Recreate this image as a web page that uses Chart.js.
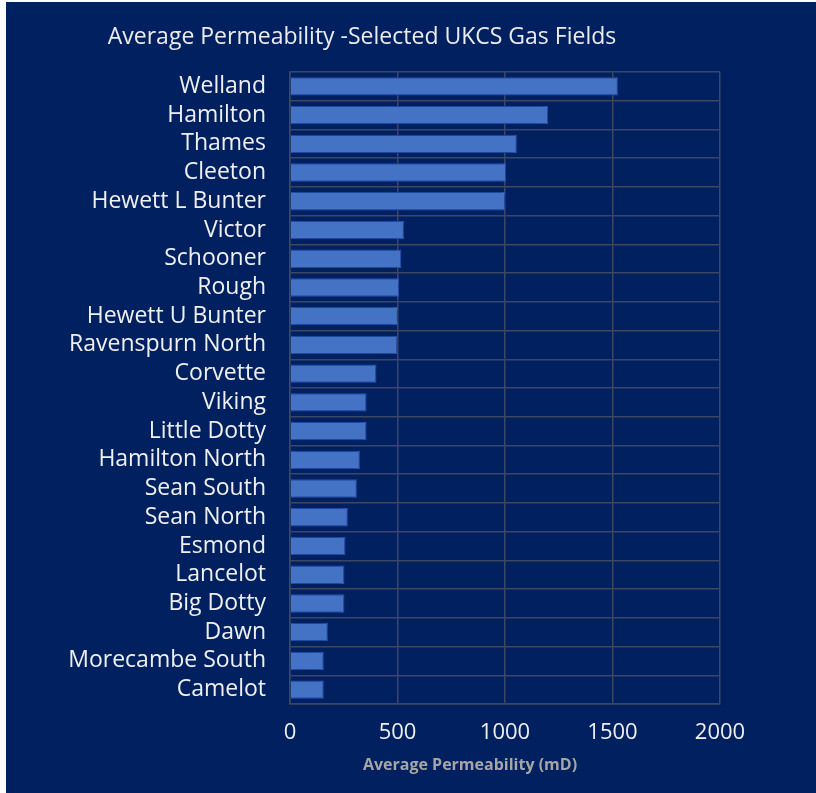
<!DOCTYPE html>
<html>
<head>
<meta charset="utf-8">
<script src="https://cdn.jsdelivr.net/npm/chart.js@4"></script>
<style>
  html, body { margin: 0; padding: 0; background: #ffffff; }
  #wrap { position: absolute; left: 6px; top: 2px; width: 810px; height: 791px; background: #002060; }
</style>
</head>
<body>
<div id="wrap"><canvas id="myChart" width="810" height="791"></canvas></div>
<script>
// field names, top to bottom
const fields = ['Welland', 'Hamilton', 'Thames', 'Cleeton', 'Hewett L Bunter', 'Victor',
  'Schooner', 'Rough', 'Hewett U Bunter', 'Ravenspurn North', 'Corvette', 'Viking',
  'Little Dotty', 'Hamilton North', 'Sean South', 'Sean North', 'Esmond', 'Lancelot',
  'Big Dotty', 'Dawn', 'Morecambe South', 'Camelot'];

// average permeability, mD
const permeability = [1525, 1200, 1055, 1005, 1000, 530, 518, 507, 502, 500, 402, 356,
  356, 325, 311, 269, 258, 253, 253, 176, 157, 157];

const xTicks = [0, 500, 1000, 1500, 2000];

const chartTitle = 'Average Permeability -Selected UKCS Gas Fields';
const axisTitle = 'Average Permeability (mD)';

const font = "'Open Sans', sans-serif";

// titles drawn by hand so they can sit off-centre like the original
const titles = {
  id: 'titles',
  afterDraw(chart) {
    const ctx = chart.ctx;
    ctx.save();
    ctx.textAlign = 'center';
    ctx.textBaseline = 'middle';
    ctx.fillStyle = '#ececec';
    ctx.font = '23px ' + font;
    ctx.fillText(chartTitle, 356, 35);
    ctx.fillStyle = '#a6a6a6';
    ctx.font = 'bold 16px ' + font;
    ctx.fillText(axisTitle, 464, 763);
    ctx.restore();
  }
};

// soft dark glow round the bars
const glow = {
  id: 'glow',
  beforeDatasetsDraw(chart) {
    chart.ctx.save();
    chart.ctx.shadowColor = 'rgba(0, 30, 120, 1)';
    chart.ctx.shadowBlur = 6;
  },
  afterDatasetsDraw(chart) {
    chart.ctx.restore();
  }
};

var ctx = document.getElementById('myChart').getContext('2d');
var chart = new Chart(ctx, {
  type: 'bar',
  data: {
    labels: fields,
    datasets: [{
      data: permeability,
      backgroundColor: '#4472c4',
      borderColor: '#3a66bd',
      borderWidth: 1,
      barPercentage: 0.64,
      categoryPercentage: 1
    }]
  },
  options: {
    indexAxis: 'y',
    responsive: false,
    animation: false,
    layout: { padding: { left: 0, top: 70, right: 96, bottom: 0 } },
    plugins: {
      legend: { display: false },
      tooltip: { enabled: false }
    },
    scales: {
      x: {
        min: 0,
        max: 2000,
        afterBuildTicks(scale) { scale.ticks = xTicks.map(v => ({ value: v })); },
        afterFit(scale) { scale.height = 89; },
        grid: { color: '#3c4763', lineWidth: 1.5, drawTicks: false },
        border: { color: '#3c4763', width: 1.5 },
        ticks: {
          color: '#f0f0f0', font: { family: font, size: 22 }, padding: 16,
          callback: v => String(v)
        }
      },
      y: {
        afterFit(scale) { scale.width = 284; },
        grid: { color: '#3c4763', lineWidth: 1.5, drawTicks: false },
        border: { color: '#3c4763', width: 1.5 },
        ticks: {
          color: '#f0f0f0', font: { family: font, size: 23 }, padding: 24,
          autoSkip: false
        }
      }
    }
  },
  plugins: [titles, glow]
});
</script>
</body>
</html>
